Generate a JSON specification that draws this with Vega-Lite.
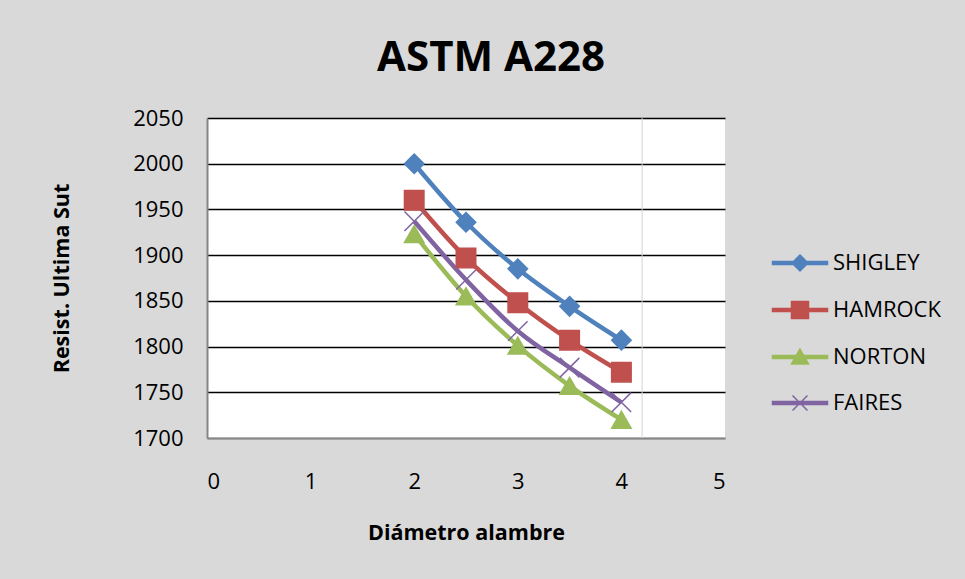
{
  "$schema": "https://vega.github.io/schema/vega-lite/v6.json",
  "width": 518,
  "height": 320,
  "autosize": {"type": "none"},
  "padding": {"left": 207, "top": 118, "right": 240, "bottom": 141},
  "background": "#d9d9d9",
  "config": {
    "view": {"stroke": null, "fill": "white"},
    "font": "Open Sans"
  },
  "title": {
    "text": "ASTM A228",
    "fontSize": 42,
    "font": "Open Sans",
    "fontWeight": "bold",
    "color": "#000000",
    "anchor": "middle",
    "frame": "group",
    "baseline": "alphabetic",
    "dx": 25,
    "offset": -6
  },
  "data": {
    "values": [
      {"serie": "SHIGLEY", "diametro": 2, "sut": 2000},
      {"serie": "SHIGLEY", "diametro": 2.5, "sut": 1936},
      {"serie": "SHIGLEY", "diametro": 3, "sut": 1885},
      {"serie": "SHIGLEY", "diametro": 3.5, "sut": 1844},
      {"serie": "SHIGLEY", "diametro": 4, "sut": 1807},
      {"serie": "HAMROCK", "diametro": 2, "sut": 1960},
      {"serie": "HAMROCK", "diametro": 2.5, "sut": 1897},
      {"serie": "HAMROCK", "diametro": 3, "sut": 1848},
      {"serie": "HAMROCK", "diametro": 3.5, "sut": 1807},
      {"serie": "HAMROCK", "diametro": 4, "sut": 1772},
      {"serie": "NORTON", "diametro": 2, "sut": 1923},
      {"serie": "NORTON", "diametro": 2.5, "sut": 1855},
      {"serie": "NORTON", "diametro": 3, "sut": 1801},
      {"serie": "NORTON", "diametro": 3.5, "sut": 1757},
      {"serie": "NORTON", "diametro": 4, "sut": 1720},
      {"serie": "FAIRES", "diametro": 2, "sut": 1937},
      {"serie": "FAIRES", "diametro": 2.5, "sut": 1873},
      {"serie": "FAIRES", "diametro": 3, "sut": 1817},
      {"serie": "FAIRES", "diametro": 3.5, "sut": 1777},
      {"serie": "FAIRES", "diametro": 4, "sut": 1739}
    ]
  },
  "layer": [
    {
      "data": {"values": [{"x": 4.2}]},
      "mark": {"type": "rule", "color": "#d4d4d4", "strokeWidth": 1},
      "encoding": {
        "x": {"field": "x", "type": "quantitative", "scale": {"domain": [0, 5]}}
      }
    },
    {
      "mark": {"type": "line", "interpolate": "monotone", "strokeWidth": 4.5},
      "encoding": {
        "x": {
          "field": "diametro", "type": "quantitative",
          "scale": {"domain": [0, 5], "nice": false},
          "axis": {
            "title": "Diámetro alambre",
            "values": [0, 1, 2, 3, 4, 5],
            "format": "d",
            "grid": false,
            "ticks": false,
            "domainColor": "#868686",
            "domainWidth": 2,
            "labelFont": "Open Sans",
            "labelFontSize": 22,
            "labelColor": "#000000",
            "labelPadding": 33,
            "titleFont": "Open Sans",
            "titleFontSize": 21.5,
            "titleFontWeight": "bold",
            "titleColor": "#000000",
            "titlePadding": 30
          }
        },
        "y": {
          "field": "sut", "type": "quantitative",
          "scale": {"domain": [1700, 2050], "nice": false, "zero": false},
          "axis": {
            "title": "Resist. Ultima Sut",
            "values": [1700, 1750, 1800, 1850, 1900, 1950, 2000, 2050],
            "format": "d",
            "grid": true,
            "gridColor": {"condition": {"test": "datum.value === 1700", "value": "#868686"}, "value": "#000000"},
            "gridWidth": 1.6,
            "ticks": false,
            "domainColor": "#868686",
            "domainWidth": 2,
            "labelFont": "Open Sans",
            "labelFontSize": 22,
            "labelColor": "#000000",
            "labelPadding": 24,
            "titleFont": "Open Sans",
            "titleFontSize": 21.5,
            "titleFontWeight": "bold",
            "titleColor": "#000000",
            "titlePadding": 59
          }
        },
        "color": {
          "field": "serie", "type": "nominal",
          "scale": {"domain": ["SHIGLEY", "HAMROCK", "NORTON", "FAIRES"], "range": ["#4F81BD", "#C0504D", "#9BBB59", "#8064A2"]},
          "legend": {
            "title": null,
            "orient": "none",
            "legendX": 582,
            "legendY": 134,
            "padding": 0,
            "symbolSize": 400,
            "labelFont": "Open Sans",
            "labelFontSize": 22,
            "labelColor": "#000000",
            "labelOffset": 22,
            "rowPadding": 24,
            "encode": {
              "symbols": {
                "update": {
                  "shape": {"signal": "datum.value === 'SHIGLEY' ? 'M-2.75,-0.15H2.75V0.15H-2.75Z M0,-0.8L0.8,0L0,0.8L-0.8,0Z' : datum.value === 'HAMROCK' ? 'M-2.75,-0.15H2.75V0.15H-2.75Z M-0.85,-0.85H0.85V0.85H-0.85Z' : datum.value === 'NORTON' ? 'M-2.75,-0.15H2.75V0.15H-2.75Z M0,-0.8L0.85,0.7L-0.85,0.7Z' : 'M-2.75,-0.15H2.75V0.15H-2.75Z M-0.75,-0.75L0.75,0.75M-0.75,0.75L0.75,-0.75'"},
                  "fill": {"signal": "scale('color', datum.value)"},
                  "stroke": {"signal": "scale('color', datum.value)"},
                  "strokeWidth": {"value": 1.5},
                  "size": {"value": 400},
                  "opacity": {"value": 1}
                }
              }
            }
          }
        }
      }
    },
    {
      "mark": {"type": "point", "filled": true, "opacity": 1, "size": 380, "strokeWidth": 1.5},
      "encoding": {
        "x": {"field": "diametro", "type": "quantitative"},
        "y": {"field": "sut", "type": "quantitative"},
        "color": {
          "field": "serie", "type": "nominal",
          "legend": {
            "title": null,
            "orient": "none",
            "legendX": 582,
            "legendY": 134,
            "padding": 0,
            "symbolSize": 400,
            "labelFont": "Open Sans",
            "labelFontSize": 22,
            "labelColor": "#000000",
            "labelOffset": 22,
            "rowPadding": 24,
            "encode": {
              "symbols": {
                "update": {
                  "shape": {"signal": "datum.value === 'SHIGLEY' ? 'M-2.75,-0.15H2.75V0.15H-2.75Z M0,-0.8L0.8,0L0,0.8L-0.8,0Z' : datum.value === 'HAMROCK' ? 'M-2.75,-0.15H2.75V0.15H-2.75Z M-0.85,-0.85H0.85V0.85H-0.85Z' : datum.value === 'NORTON' ? 'M-2.75,-0.15H2.75V0.15H-2.75Z M0,-0.8L0.85,0.7L-0.85,0.7Z' : 'M-2.75,-0.15H2.75V0.15H-2.75Z M-0.75,-0.75L0.75,0.75M-0.75,0.75L0.75,-0.75'"},
                  "fill": {"signal": "scale('color', datum.value)"},
                  "stroke": {"signal": "scale('color', datum.value)"},
                  "strokeWidth": {"value": 1.5},
                  "size": {"value": 400},
                  "opacity": {"value": 1}
                }
              }
            }
          }
        },
        "stroke": {
          "field": "serie", "type": "nominal",
          "scale": {"domain": ["SHIGLEY", "HAMROCK", "NORTON", "FAIRES"], "range": ["#4F81BD", "#C0504D", "#9BBB59", "#8064A2"]},
          "legend": null
        },
        "shape": {
          "condition": [
            {"test": "datum.serie === 'SHIGLEY'", "value": "diamond"},
            {"test": "datum.serie === 'HAMROCK'", "value": "square"},
            {"test": "datum.serie === 'NORTON'", "value": "triangle-up"}
          ],
          "value": "M-1,-1L1,1M-1,1L1,-1"
        }
      }
    }
  ]
}
